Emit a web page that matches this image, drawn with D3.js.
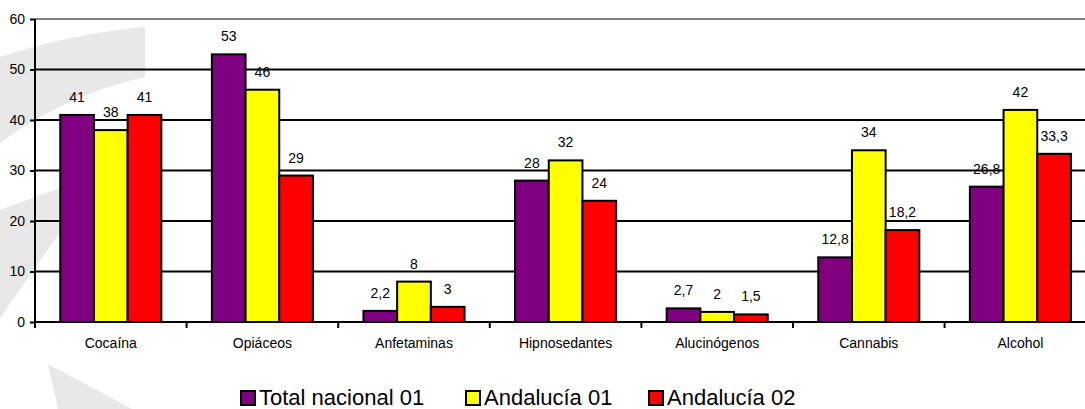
<!DOCTYPE html>
<html><head><meta charset="utf-8">
<script src="https://cdn.jsdelivr.net/npm/d3@7"></script>
<style>body{margin:0;background:#fff}svg{display:block;font-family:"Liberation Sans",Arial,sans-serif}</style>
</head><body><svg id="c" width="1085" height="409"></svg>
<script>
const categories = ["Cocaína","Opiáceos","Anfetaminas","Hipnosedantes","Alucinógenos","Cannabis","Alcohol"];
const seriesNames = ["Total nacional 01","Andalucía 01","Andalucía 02"];
const totalNacional01 = [41,53,2.2,28,2.7,12.8,26.8];
const andalucia01 = [38,46,8,32,2,34,42];
const andalucia02 = [41,29,3,24,1.5,18.2,33.3];
const seriesColors = ["#800080","#FFFF00","#FF0000"];
const yTicks = [0,10,20,30,40,50,60];

const seriesValues = [totalNacional01, andalucia01, andalucia02];
const svg = d3.select("#c");
const fmt = v => String(v).replace(".", ",");

// watermark
const wm = svg.append("g").attr("fill","#e8e8e8");
wm.append("path").attr("d","M0,57 Q70,34 145,27 L145,77 Q65,95 0,143 Z");
wm.append("path").attr("d","M0,210 L60,188 L60,232 L0,318 Z");
wm.append("path").attr("d","M48,364 L132,409 L58,409 Z");

const x = d3.scaleBand().domain(categories).range([35, 35 + 7*151.6]).paddingInner(1/3).paddingOuter(1/6);
const xs = d3.scaleBand().domain(seriesNames).range([0, x.bandwidth()]);
const y = d3.scaleLinear().domain([0,60]).range([322,19]);

// gridlines
svg.append("g").selectAll("line").data(yTicks.filter(t=>t>0)).join("line")
  .attr("x1",35).attr("x2",1100).attr("y1",d=>y(d)).attr("y2",d=>y(d))
  .attr("stroke",d=>d===60?"#808080":"#000").attr("stroke-width",2);

// bars
const groups = svg.append("g").selectAll("g").data(categories).join("g")
  .attr("transform",d=>`translate(${x(d)},0)`);
groups.each(function(cat,i){
  const g = d3.select(this);
  seriesNames.forEach((s,j)=>{
    const v = seriesValues[j][i];
    g.append("rect").attr("x",xs(s)).attr("width",xs.bandwidth())
      .attr("y",y(v)).attr("height",y(0)-y(v))
      .attr("fill",seriesColors[j]).attr("stroke","#000").attr("stroke-width",2);
    g.append("text").attr("x",xs(s)+xs.bandwidth()/2).attr("y",y(v)-13)
      .attr("text-anchor","middle").attr("font-size",14).attr("fill","#000").text(fmt(v));
  });
});

// y axis
const yAxis = svg.append("g").attr("transform","translate(35,0)")
  .call(d3.axisLeft(y).tickValues(yTicks).tickSize(5).tickPadding(5));
yAxis.select(".domain").attr("stroke","#000").attr("stroke-width",2).attr("d","M0,19V323");
yAxis.selectAll(".tick line").attr("stroke","#000").attr("stroke-width",2);
yAxis.selectAll(".tick text").attr("font-size",14).attr("fill","#000").attr("font-family","Liberation Sans, Arial, sans-serif");

// x axis
const xAxis = svg.append("g").attr("transform","translate(0,322)");
xAxis.append("line").attr("x1",34).attr("x2",1100).attr("y1",0).attr("y2",0).attr("stroke","#000").attr("stroke-width",2);
xAxis.selectAll("line.t").data(d3.range(categories.length+1)).join("line").attr("class","t")
  .attr("x1",i=>35+i*x.step()).attr("x2",i=>35+i*x.step()).attr("y1",0).attr("y2",6)
  .attr("stroke","#000").attr("stroke-width",2);
xAxis.selectAll("text").data(categories).join("text")
  .attr("x",d=>x(d)+x.bandwidth()/2).attr("y",26).attr("text-anchor","middle")
  .attr("font-size",14).attr("fill","#000").text(d=>d);

// legend
const legendX = [240, 465, 648];
const lg = svg.append("g");
seriesNames.forEach((s,j)=>{
  lg.append("rect").attr("x",legendX[j]+1).attr("y",391).attr("width",14).attr("height",14)
    .attr("fill",seriesColors[j]).attr("stroke","#000").attr("stroke-width",2);
  lg.append("text").attr("x",legendX[j]+19).attr("y",405).attr("font-size",22).attr("fill","#000").text(s);
});
</script></body></html>
